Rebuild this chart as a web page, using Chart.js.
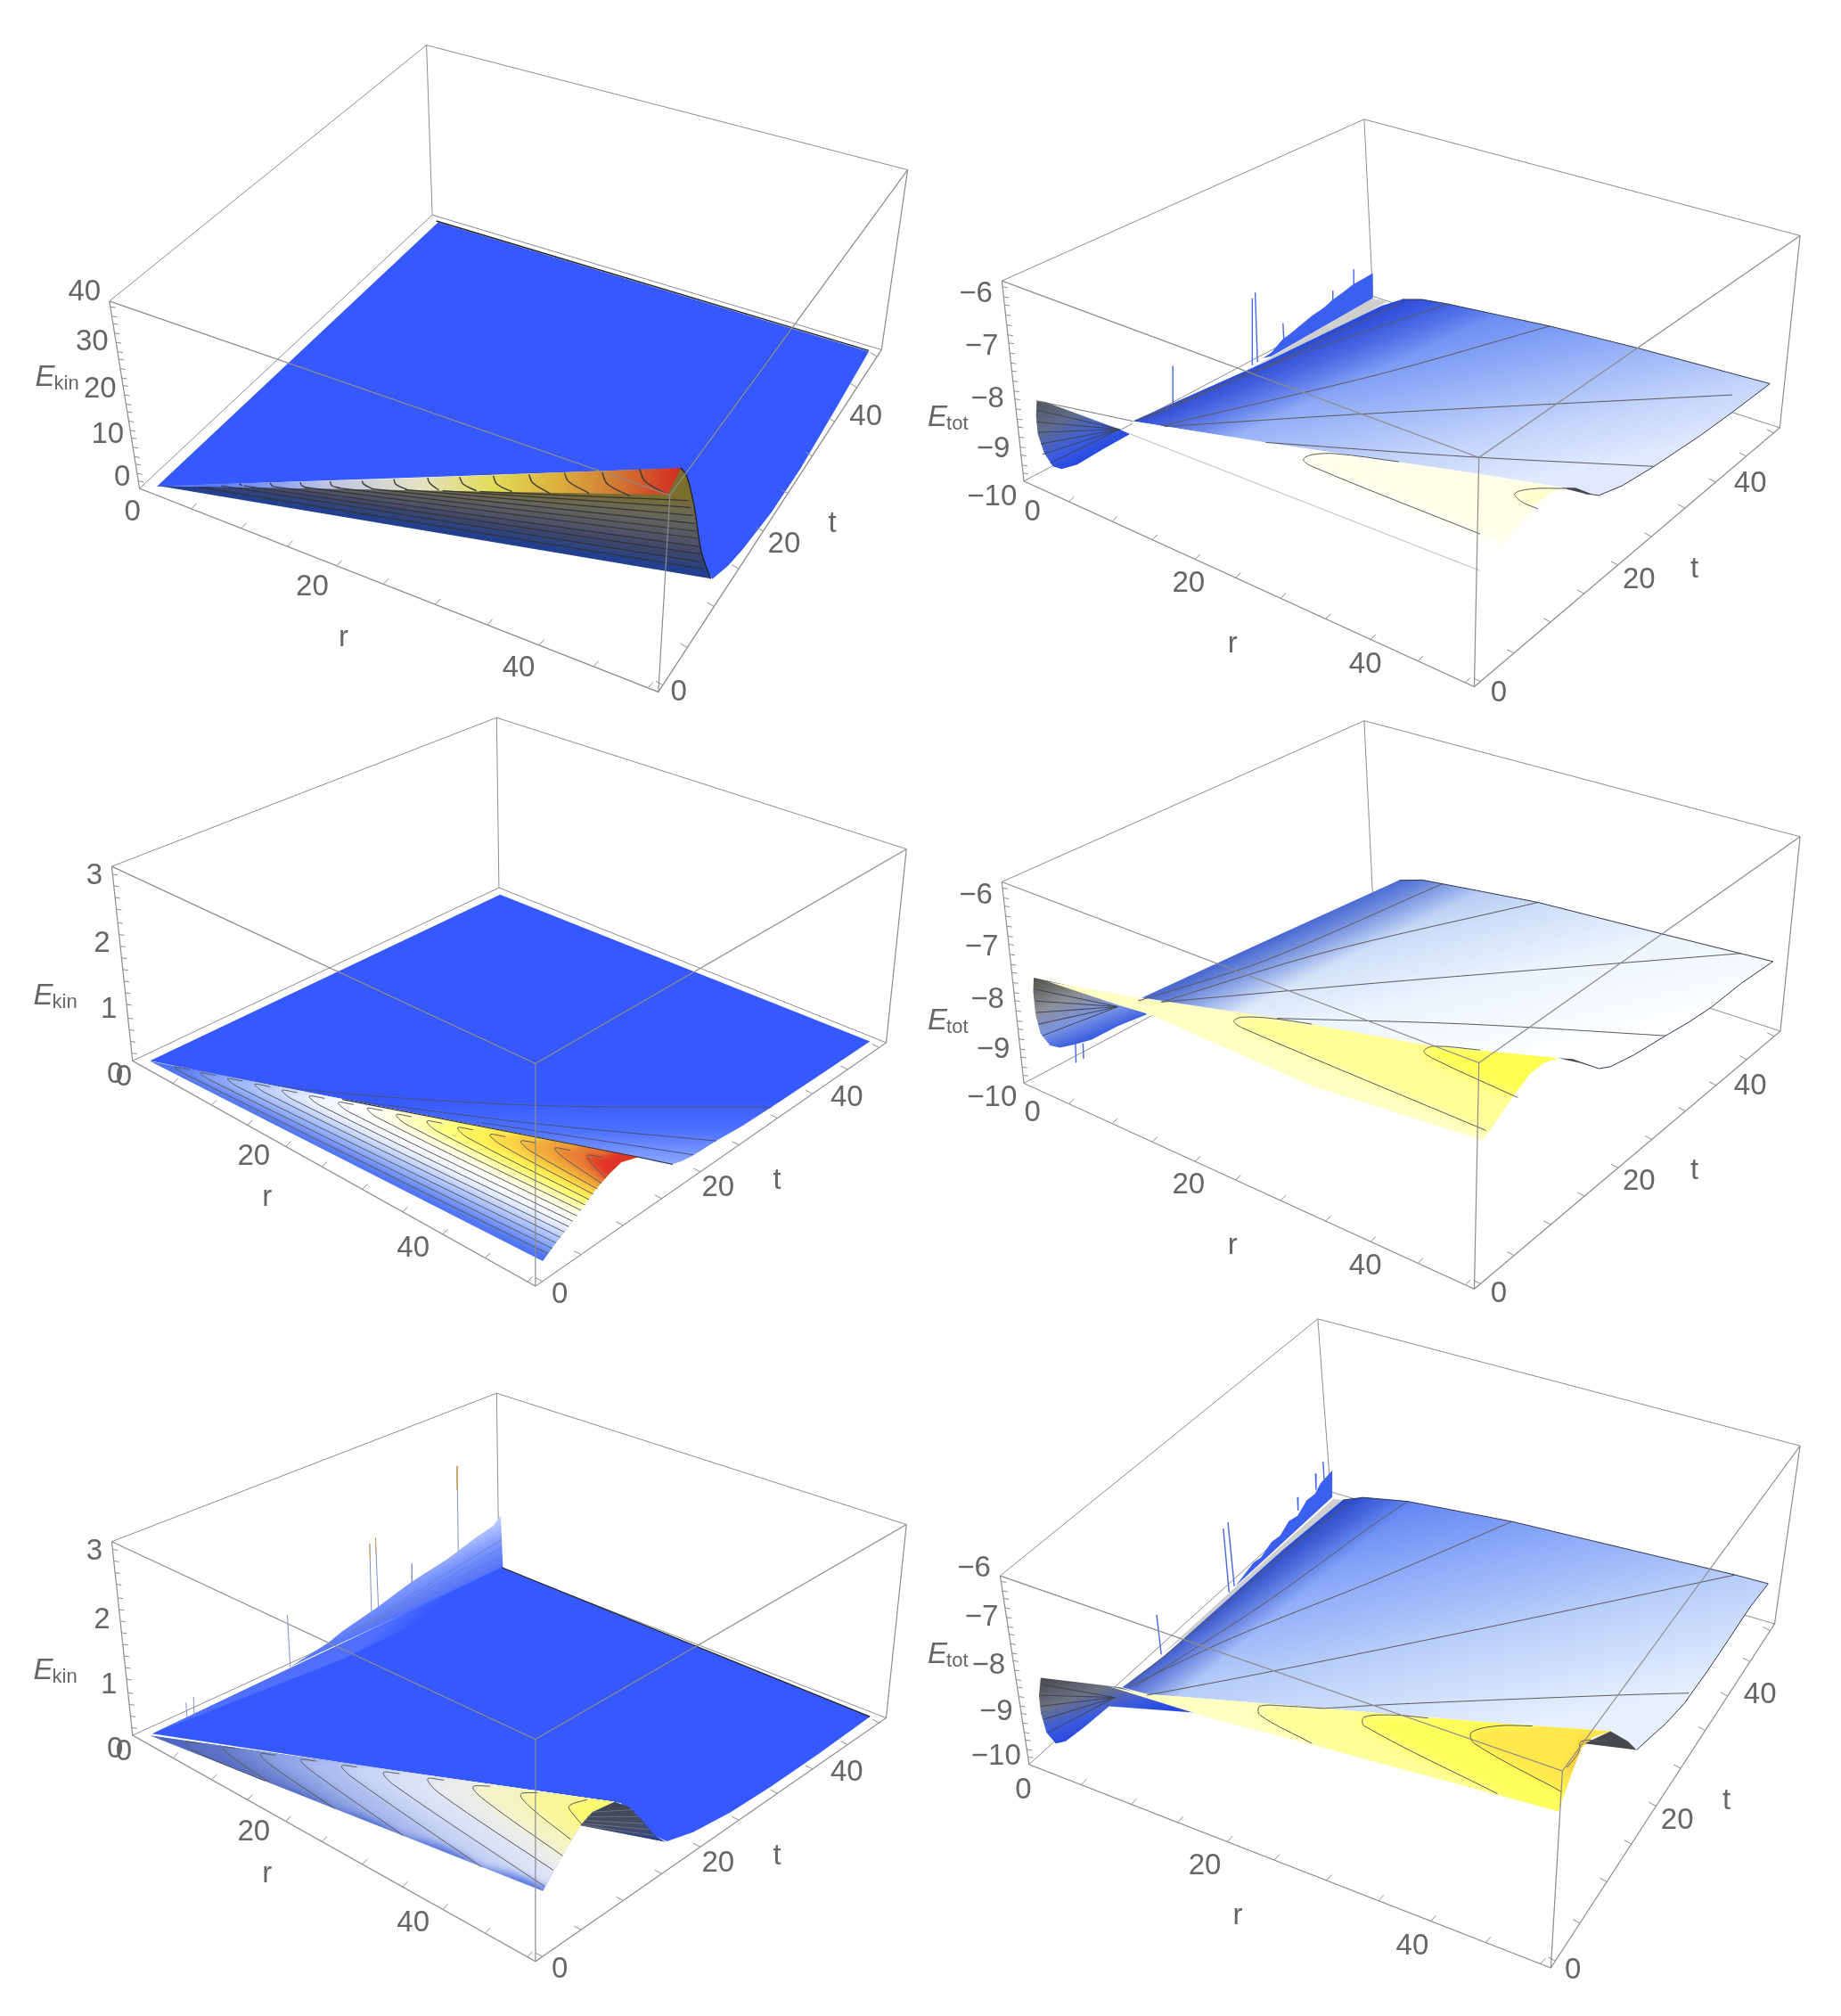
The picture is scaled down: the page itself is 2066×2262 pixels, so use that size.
<!DOCTYPE html>
<html lang="en">
<head>
<meta charset="UTF-8">
<title>E_kin and E_tot surfaces</title>
<script src="https://cdn.jsdelivr.net/npm/chart.js"></script>
<style>
  html, body { margin: 0; background: #fff; overflow: hidden; }
  #page { position: relative; width: 2066px; height: 2262px; }
  canvas { position: absolute; }
</style>
</head>
<body>
<div id="page"></div>
<script>
// every coordinate below is in "view units": each panel runs 0..1568 on both axes.
// detail arrays (d...) use a finer scale for the ridge area.

// box corners: back top, right top, left top, front top, front bottom, left bottom, right bottom, back bottom
const p1Box = [[705,42],[1535,327],[158,627],[1125,1070],[1105,1520],[210,1055],[1490,738],[715,430]];
const p2Box = [[770,32],[1522,333],[145,450],[968,907],[960,1500],[183,968],[1487,830],[785,490]];
const p3Box = [[826,12],[1533,352],[162,397],[893,907],[893,1483],[198,900],[1498,853],[830,452]];
const p4Box = [[770,20],[1522,320],[145,437],[968,905],[960,1490],[183,958],[1488,823],[785,480]];
const p5Box = [[826,52],[1533,382],[162,425],[893,922],[893,1480],[198,912],[1498,868],[830,490]];
const p6Box = [[690,20],[1522,310],[142,607],[1112,1053],[1092,1503],[192,1038],[1478,717],[712,415]];

// tick marks, as fraction along each box edge
const rTickFrac = [.10,.196,.285,.38,.47,.57,.67,.77,.875,.98];
const tTickFrac = [.02,.13,.25,.36,.47,.58,.69,.79,.89,.98];
const zTickFrac4 = [.04,.08,.13,.17,.22,.27,.31,.36,.41,.45,.50,.55,.59,.64,.69,.73,.78,.83,.88,.92,.97];
const zTickFrac3 = [.04,.10,.16,.22,.29,.35,.41,.47,.53,.59,.65,.71,.78,.84,.90,.96];

// tick and axis text
const p1Text = ['40','30','20','10','0','0','20','40','0','20','40','r','t'];
const p1TextAt = [[115,607],[128,720],[142,828],[155,932],[180,1030],[198,1110],[508,1280],[864,1465],[1140,1520],[1322,1183],[1463,892],[562,1397],[1405,1137]];
const p2Text = ['\u22126','\u22127','\u22128','\u22129','\u221210','0','20','40','0','20','40','r','t'];
const p2TextAt = [[100,485],[110,620],[120,755],[130,885],[128,1010],[198,1050],[467,1233],[772,1443],[1002,1518],[1244,1224],[1436,975],[543,1390],[1340,1197]];
const p3Text = ['3','2','1','0','0','20','40','0','20','40','r','t'];
const p3TextAt = [[132,422],[145,597],[157,767],[168,937],[183,942],[407,1147],[682,1385],[935,1505],[1208,1228],[1430,995],[430,1255],[1310,1210]];
const p4TextAt = [[100,472],[110,607],[120,742],[130,872],[128,997],[198,1035],[467,1222],[772,1432],[1002,1503],[1244,1213],[1436,965],[543,1378],[1340,1185]];
const p5TextAt = [[132,450],[145,622],[157,787],[168,948],[183,955],[407,1155],[682,1383],[935,1500],[1208,1233],[1430,1005],[430,1260],[1310,1217]];
const p6TextAt = [[97,590],[110,703],[122,812],[135,918],[135,1020],[182,1097],[495,1270],[853,1453],[1130,1508],[1310,1167],[1453,880],[552,1385],[1395,1122]];
const zTitles = ['kin','tot','kin','tot','kin','tot'];
const zTitleAt = [[30,820],[17,825],[27,755],[17,818],[27,770],[17,806]];

// panel 1: E_kin, big range
const p1Sheet = [[240,1050],[725,447],[1468,742],[1410,875],[1350,1010],[1300,1110],[1250,1195],[1225,1232],[1198,1262],[1150,1150],[1120,1010]];
const p1TopEdge = [[722,444],[1468,740]];
const d1Band = [[40,105],[600,85],[1435,45],[1400,135],[700,120]];
const d1Back = [[40,105],[700,120],[1400,135],[1435,45],[1450,70],[1470,170],[1490,330],[1515,418]];
const d1Arcs = [
  [[258,98],[265,105]],
  [[340,95],[345,105],[350,108]],
  [[420,93],[425,105],[440,112]],
  [[500,90],[505,105],[525,112]],
  [[585,88],[590,100],[612,115]],
  [[670,83],[675,100],[705,118]],
  [[760,78],[765,95],[790,120]],
  [[845,75],[855,100],[890,122]],
  [[935,72],[945,100],[985,125]],
  [[1030,67],[1040,95],[1085,130]],
  [[1125,62],[1135,90],[1190,130]],
  [[1225,60],[1240,100],[1300,140]],
  [[1325,50],[1340,90],[1400,135]]
];
const d1Fan = [
  [[150,110],[1495,385]],
  [[210,105],[1490,362]],
  [[270,105],[1487,335]],
  [[350,108],[1483,310]],
  [[430,110],[1480,282]],
  [[520,112],[1476,258]],
  [[610,115],[1472,232]],
  [[700,118],[1468,205]],
  [[800,122],[1462,178]],
  [[900,125],[1455,155]]
];
const d1TipEdge = [[1435,45],[1450,70],[1470,170],[1490,330],[1515,418]];

// panel 3: E_kin, small range
const p3Sheet = [[228,900],[832,470],[1470,850],[1380,940],[1300,1020],[1250,1068],[1205,1107],[1165,1145],[1145,1160],[1128,1168],[1105,1162],[1070,1150],[560,1000]];
const p3SheetLines = [
  [[270,915],[500,975],[890,1015],[1300,1020]],
  [[560,1000],[890,1062],[1205,1107]],
  [[800,1060],[1000,1105],[1165,1143]]
];
const p3RidgeLine = [[560,1000],[1075,1150],[1130,1168]];
const d3Front = [[48,32],[1480,355],[1470,358],[1430,372],[1395,410],[1350,470],[1310,535],[1270,595],[1240,640],[1200,705]];
const d3Contours = [
  [[165,61],[120,52],[150,75],[1215,680]],
  [[240,80],[195,72],[225,96],[1227,662]],
  [[320,99],[275,91],[305,118],[1239,644]],
  [[400,118],[355,110],[385,138],[1251,625]],
  [[480,138],[435,130],[465,160],[1263,607]],
  [[560,157],[515,150],[545,180],[1276,589]],
  [[645,178],[600,171],[630,202],[1288,571]],
  [[730,198],[685,191],[715,222],[1300,553]],
  [[815,219],[770,212],[800,245],[1312,534]],
  [[905,241],[860,234],[890,268],[1324,516]],
  [[995,263],[950,256],[980,290],[1336,498]],
  [[1090,286],[1045,279],[1075,312],[1348,480]],
  [[1180,307],[1135,301],[1165,335],[1360,462]],
  [[1280,332],[1235,325],[1265,360],[1372,443]],
  [[1375,355],[1330,350],[1350,385],[1385,425]]
];

// panel 5: E_kin, small range, later time
const p5Sheet = [[232,908],[835,490],[1470,865],[1380,960],[1300,1040],[1230,1105],[1165,1155],[1120,1178],[1090,1160],[1040,1082],[900,1055]];
const p5Wall = [[470,740],[535,680],[560,650],[620,590],[680,525],[740,470],[790,415],[820,385],[833,360],[837,492],[520,705]];
const p5Stripe = [[232,908],[835,490],[850,515],[560,720]];
const p5WallLines = [
  [[560,665],[835,420]],
  [[575,655],[835,440]],
  [[590,645],[835,460]],
  [[605,635],[835,478]]
];
const p5Spikes = [[[758,235],[760,470]],[[607,430],[610,600]],[[617,415],[622,590]],[[465,610],[470,740]],[[680,480],[680,550]],[[290,830],[293,885]],[[303,815],[305,875]]];
const p5WarmSpikes = [[[758,235],[758,295]],[[617,415],[618,455]],[[607,430],[608,470]]];
const p5SheetLine = [[835,490],[1470,865]];
const d5Front = [[48,82],[1410,305],[1345,340],[1310,385],[1255,490],[1200,605]];
const d5Back = [[1310,385],[1345,340],[1410,305],[1450,320],[1490,365],[1530,420],[1560,440]];
const d5BackLines = [[[1345,340],[1460,332]],[[1330,355],[1480,355]],[[1322,368],[1495,378]],[[1318,378],[1510,398]],[[1315,384],[1525,418]]];
const d5Contours = [
  [[190,108],[152,104],[180,135],[385,235]],
  [[300,125],[260,122],[290,155],[395,237]],
  [[415,148],[372,144],[400,180],[590,328]],
  [[535,168],[490,164],[520,200],[790,418]],
  [[655,188],[610,184],[640,222],[1020,524]],
  [[780,210],[732,207],[765,250],[1205,590]],
  [[910,232],[862,228],[895,275],[1230,535]],
  [[1045,252],[995,255],[1030,300],[1258,487]],
  [[1185,274],[1135,280],[1165,325],[1282,432]],
  [[1330,297],[1277,320],[1295,355],[1315,382]]
];

// panel 2: E_tot
const p2Wall = [[595,650],[610,635],[630,600],[640,590],[660,565],[680,540],[700,520],[715,500],[735,478],[750,460],[785,430],[785,495],[610,645]];
const p2Grey = [[785,495],[810,503],[500,770],[560,690]];
const p2Spikes = [[[440,670],[440,775]],[[577,495],[577,668]],[[582,480],[586,660]],[[630,560],[632,620]],[[716,475],[716,520]],[[752,420],[752,465]]];
const p2Main = [[371,813],[600,660],[800,515],[835,498],[870,498],[915,510],[1090,567],[1245,625],[1470,716],[1405,790],[1350,850],[1270,930],[1215,980],[1175,1005],[1150,1000],[1110,985],[970,950],[600,868]];
const p2Rim = [[835,498],[870,498],[915,510],[1090,567],[1245,625],[1470,716],[1405,790],[1350,850],[1270,930],[1215,980],[1175,1005],[1150,1000]];
const p2Front = [[371,813],[600,868],[970,950],[1115,985],[1090,1000],[1065,1030],[1040,1075],[1000,1145],[970,1200],[366,846]];
const p2Hump = [[1110,985],[1135,985],[1165,1003],[1150,1000]];
const p2Left = [[205,761],[220,763],[348,834],[366,846],[320,885],[275,925],[248,937],[233,930],[218,895],[207,846],[204,800]];
const p2LeftTop = [[205,760],[371,813]];
const p2Fan = [[[348,834],[205,784]],[[348,834],[205,815]],[[348,834],[207,842]],[[348,834],[212,872]],[[348,834],[215,899]],[[348,834],[228,922]]];
const p2Lines = [
  [[375,812],[600,672],[835,505]],
  [[395,805],[640,650],[915,510]],
  [[420,825],[800,690],[1090,567]],
  [[425,827],[760,795],[1405,745]],
  [[600,868],[950,905],[1270,930]]
];
const p2Loops = [
  [[830,918],[720,897],[680,900],[665,912],[680,930],[970,1105]],
  [[1115,987],[1060,988],[1030,1000],[1040,1020],[1070,1040]]
];
const p2LowerEdge = [[366,846],[970,1200]];

// panel 4: E_tot
const p4Main = [[375,745],[600,590],[830,433],[870,432],[905,442],[1070,490],[1285,572],[1475,643],[1420,700],[1370,760],[1330,800],[1290,835],[1235,885],[1195,915],[1175,920],[1145,905],[1105,893],[880,860],[620,790]];
const p4Rim = [[830,433],[870,432],[905,442],[1070,490],[1285,572],[1475,643],[1420,700],[1370,760],[1330,800],[1290,835],[1235,885],[1195,915],[1175,920],[1145,905]];
const p4Front = [[380,735],[620,790],[880,860],[1105,893],[1080,905],[1055,935],[1030,985],[975,1105],[680,965],[400,780]];
const p4Wedge = [[225,695],[380,737],[400,780],[345,755]];
const p4Hump = [[1105,893],[1130,895],[1165,915],[1150,908]];
const p4Left = [[200,685],[290,715],[375,745],[395,780],[345,810],[300,845],[270,858],[245,866],[228,860],[212,830],[203,780],[199,720]];
const p4Fan = [[[345,760],[203,715]],[[345,760],[203,745]],[[345,760],[205,775]],[[345,760],[208,805]],[[345,760],[215,835]]];
const p4Spikes = [[[272,855],[273,905]],[[285,855],[286,895]]];
const p4Lines = [
  [[380,745],[600,640],[905,442]],
  [[420,748],[700,620],[1070,490]],
  [[420,748],[820,695],[1420,622]],
  [[620,790],[950,805],[1290,835]]
];
const p4Loops = [
  [[680,805],[610,790],[560,787],[545,797],[560,815],[980,1080]],
  [[970,872],[890,862],[873,875],[890,895],[1035,995]]
];

// panel 6: E_tot
const p6Wall = [[548,631],[579,577],[592,565],[610,530],[625,515],[640,482],[655,470],[671,434],[685,420],[695,395],[715,366],[715,427]];
const p6Grey = [[717,431],[733,434],[548,660],[420,787],[538,645]];
const p6Spikes = [[[412,696],[420,787]],[[527,499],[537,645]],[[535,485],[546,631]],[[655,427],[656,458]],[[686,373],[687,411]],[[699,346],[701,387]]];
const p6Main = [[353,862],[425,790],[527,670],[630,548],[733,434],[768,428],[845,437],[1025,483],[1410,605],[1467,625],[1435,680],[1399,752],[1362,825],[1322,899],[1290,945],[1262,978],[1240,1005],[1225,985],[1195,962],[1010,945],[830,925],[660,905],[395,877]];
const p6Rim = [[733,434],[768,428],[845,437],[1025,483],[1410,605],[1467,625],[1435,680],[1399,752],[1362,825],[1322,899],[1290,945],[1262,978],[1240,1005]];
const p6Front = [[330,860],[395,877],[660,905],[830,925],[1010,945],[1195,962],[1165,975],[1145,1000],[1130,1050],[1105,1145],[700,1000],[500,930]];
const p6Hump = [[1150,990],[1195,962],[1225,985],[1240,1005]];
const p6Left = [[212,840],[350,862],[481,920],[330,905],[285,955],[255,985],[238,990],[222,965],[212,920],[209,880]];
const p6Fan = [[[340,885],[212,855]],[[340,885],[210,880]],[[340,885],[212,905]],[[340,885],[217,935]],[[340,885],[225,965]]];
const p6Lines = [
  [[365,855],[527,680],[640,548],[745,440]],
  [[375,860],[600,668],[784,492],[845,437]],
  [[365,860],[540,750],[784,620],[1025,483]],
  [[395,880],[612,825],[1000,720],[1410,605]],
  [[700,910],[830,900],[1200,880],[1330,875]]
];
const p6Loops = [
  [[700,910],[640,905],[590,905],[590,925],[680,990]],
  [[880,932],[820,925],[770,930],[770,950],[1000,1105]],
  [[1060,950],[1000,950],[955,965],[960,990],[1110,1100]],
  [[1190,985],[1145,985],[1140,1010],[1120,1045]]
];

// ---- colours
const BLUE = '#3558ff', BOX = '#8c8c8c', LINE = '#5a5a5a', TEXT = '#666';
const d3Bands = ['#7291f6','#8facfa','#aac1fc','#c8d6fe','#e3ebff','#f8faff','#ffffff','#ffffe6','#ffffb4','#ffff78','#fff052','#fbd043','#f0a63a','#e87a35','#df3328'];
const d5Bands = ['#6a85e8','#8099ec','#98aef0','#b2c2f4','#c9d5f8','#dbe2f8','#ecedea','#f4f4c4','#f8f79a','#fbfa6e'];
const d1Shades = ['#2f437f','#3a4670','#454a6c','#505468','#585a64','#5f5f60','#66665a','#6c6a50','#736a40','#7a6f2c'];

// panel frames on the page
const panelRects = [[20,30,1020,770],[1030,120,1020,680],[20,800,1020,680],[1030,800,1020,680],[20,1540,1020,700],[1030,1470,1020,770]];
// where detail units land on the page: x0, kx, y0, ky
const detailFrames = [[160,660/1568,510,1/3],null,[150,600/1568,1180,1/3],null,[150,600/1568,1920,1/3],null];

// ---- dataset helpers
const P = list => list.map(p => p ? {x: p[0], y: p[1]} : {x: null, y: null});
const axes = detail => detail ? {xAxisID: 'xd', yAxisID: 'yd'} : {xAxisID: 'x', yAxisID: 'y'};
const grad = (from, to, stops) => ({from, to, stops});

function line(points, color, width, o = {}) {
  return {data: P(points), borderColor: color, borderWidth: width, pointRadius: 0, fill: false,
          tension: o.tension || 0, ...axes(o.detail)};
}
function patch(points, fill, o = {}) {
  return {data: P(points), borderWidth: 0, pointRadius: 0, fill: false, tension: o.tension || 0,
          patch: {fill, clip: o.clip, via: o.via, blur: o.blur}, ...axes(o.detail)};
}
function edgeTicks(a, b, fracs, vec) {
  const out = [];
  fracs.forEach(f => {
    const x = a[0] + (b[0] - a[0]) * f, y = a[1] + (b[1] - a[1]) * f;
    out.push([x, y], [x + vec[0], y + vec[1]], null);
  });
  return out;
}
function backEdges(b) {
  return [line([b[2], b[0], b[1]], BOX, 1), line([b[0], b[7]], BOX, 1), line([b[5], b[7], b[6]], BOX, 1)];
}
function frontEdges(b, zFrac) {
  return [
    line([b[2], b[3], b[1]], BOX, 1.2), line([b[3], b[4]], BOX, 1.2),
    line([b[2], b[5], b[4], b[6], b[1]], BOX, 1.2),
    line(edgeTicks(b[5], b[4], rTickFrac, [9, -13]), BOX, 1),
    line(edgeTicks(b[4], b[6], tTickFrac, [-12, -9]), BOX, 1),
    line(edgeTicks(b[5], b[2], zFrac, [9, 2]), BOX, 1)
  ];
}
const many = (lists, color, width, o) => lists.map(l => line(l, color, width, o));

// ---- the six panels
function panel1() {
  const d = {detail: true};
  const farUp = [[2100,-400],[-300,-400]];
  return [
    ...backEdges(p1Box),
    patch(p1Sheet, BLUE),
    line(p1TopEdge, '#222', 1.4),
    patch(d1Back, '#23408f', d),
    ...d1Fan.map((l, i) => patch(l, d1Shades[i], {detail: true, clip: d1Back, via: farUp, blur: 2})),
    patch(d1Band, grad([40,100],[1435,100],[[0,'#3558ff'],[.2,'#7f96f5'],[.32,'#bcc3e4'],[.5,'#e2e2c4'],[.64,'#e2dc58'],[.76,'#dcb23c'],[.87,'#d37d33'],[1,'#d22a22']]), d),
    ...many(d1Fan, '#333', 1.2, d),
    ...d1Arcs.map(l => line(l, '#3a3a3a', 1.4, {detail: true, tension: .4})),
    line(d1TipEdge, '#222', 1.4, {detail: true, tension: .3}),
    ...frontEdges(p1Box, zTickFrac4)
  ];
}
function panel3() {
  const via = [[2400,900],[2400,-300]];
  return [
    ...backEdges(p3Box),
    patch(p3Sheet, grad([900,1000],[900,1165],[[0,BLUE],[.5,'#4f72ff'],[1,'#8ba7ff']])),
    ...many(p3SheetLines, '#45537f', 1, {tension: .3}),
    patch(d3Front, '#4f74f2', {detail: true}),
    ...d3Contours.map((l, i) => patch(l, d3Bands[i], {detail: true, tension: .35, clip: d3Front, via, blur: 5})),
    ...d3Contours.map(l => line(l, LINE, 1, {detail: true, tension: .35})),
    line(p3RidgeLine, '#333', 1.2),
    ...frontEdges(p3Box, zTickFrac3)
  ];
}
function panel5() {
  const via = [[2400,900],[2400,-300]];
  return [
    ...backEdges(p5Box),
    ...many(p5Spikes, '#8090c8', 1),
    ...many(p5WarmSpikes, '#c8a060', 1),
    patch(p5Wall, grad([720,580],[680,460],[[0,'#4a6dff'],[.5,'#7d97ff'],[1,'#cfdcff']])),
    ...many(p5WallLines, '#6a7cc4', .8),
    patch(p5Sheet, BLUE),
    patch(p5Stripe, grad([650,610],[675,650],[[0,'#4f70ff'],[1,BLUE]])),
    line(p5SheetLine, '#222', 1.2),
    patch(d5Front, '#5775e2', {detail: true}),
    ...d5Contours.map((l, i) => patch(l, d5Bands[i], {detail: true, tension: .35, clip: d5Front, via, blur: 5})),
    patch(d5Front, grad([620,160],[530,330],[[0,'rgba(70,80,140,0)'],[.55,'rgba(70,80,140,.08)'],[1,'rgba(70,80,140,.38)']]), {detail: true}),
    patch(d5Back, grad([1400,300],[1400,440],[[0,'#3f444c'],[.6,'#444d68'],[1,'#2a3e90']]), {detail: true}),
    ...many(d5BackLines, '#6c7078', 1, {detail: true}),
    ...d5Contours.map(l => line(l, LINE, 1, {detail: true, tension: .35})),
    ...frontEdges(p5Box, zTickFrac3)
  ];
}
function etotPanel(s) {
  const via = [[1700,1568],[1700,-100]];
  const out = [...backEdges(s.box)];
  out.push(...many(s.spikes, '#4667e0', 1.4));
  if (s.wall) out.push(patch(s.wall, '#3c60ee'));
  if (s.grey) out.push(patch(s.grey, '#cfcfcf'));
  out.push(patch(s.left, s.leftFill), ...many(s.fan, '#3d4350', 1));
  out.push(patch(s.main, s.mainFill), patch(s.main, s.mainShade));
  if (s.wedge) out.push(patch(s.wedge, s.frontBase));
  out.push(patch(s.front, s.frontBase));
  s.loops.forEach((l, i) => out.push(patch(l, s.loopFills[i], {tension: .35, clip: s.front, via, blur: 6})));
  out.push(patch(s.hump, '#45484c'));
  out.push(...many(s.lines, LINE, 1, {tension: .3}));
  out.push(...many(s.loops, LINE, 1, {tension: .35}));
  out.push(line(s.rim, '#30364c', 1));
  out.push(...(s.extra || []));
  return out;
}
function panel2() {
  return [
    ...etotPanel({box: p2Box, wall: p2Wall, grey: p2Grey, spikes: p2Spikes, left: p2Left,
      leftFill: grad([205,770],[260,935],[[0,'#55585e'],[.35,'#5f6b8c'],[.75,'#3a5ce0'],[1,'#2548e0']]), fan: p2Fan,
      main: p2Main, rim: p2Rim,
      mainFill: grad([880,510],[950,1000],[[0,'#5a7ff0'],[.25,'#7a9af5'],[.5,'#a0b8f8'],[.75,'#c4d4fb'],[1,'#e0e9ff']]),
      mainShade: grad([600,660],[640,790],[[0,'rgba(35,65,210,.85)'],[1,'rgba(35,65,210,0)']]),
      front: p2Front, frontBase: '#ffffff', loops: p2Loops, loopFills: ['#ffffe8','#ffffc8'], lines: p2Lines, hump: p2Hump,
      extra: [line(p2LeftTop, '#777', 1), line(p2LowerEdge, '#bbb', 1)]}),
    ...frontEdges(p2Box, zTickFrac4)
  ];
}
function panel4() {
  return [
    ...etotPanel({box: p4Box, spikes: p4Spikes, left: p4Left, wedge: p4Wedge,
      leftFill: grad([205,690],[250,865],[[0,'#55554c'],[.4,'#8d8f96'],[.75,'#7a92e4'],[1,'#3d62e0']]), fan: p4Fan,
      main: p4Main, rim: p4Rim,
      mainFill: grad([860,430],[940,920],[[0,'#a3baf0'],[.3,'#cfdff9'],[.6,'#ecf4fe'],[1,'#fcfeff']]),
      mainShade: grad([600,590],[640,710],[[0,'rgba(45,80,200,.8)'],[1,'rgba(45,80,200,0)']]),
      front: p4Front, frontBase: '#ffffc4', loops: p4Loops, loopFills: ['#ffff96','#ffff52'], lines: p4Lines, hump: p4Hump}),
    ...frontEdges(p4Box, zTickFrac4)
  ];
}
function panel6() {
  return [
    ...etotPanel({box: p6Box, wall: p6Wall, grey: p6Grey, spikes: p6Spikes, left: p6Left,
      leftFill: grad([215,845],[250,990],[[0,'#4a4c50'],[.4,'#6c7282'],[.75,'#3a5ae0'],[1,'#2548e0']]), fan: p6Fan,
      main: p6Main, rim: p6Rim,
      mainFill: grad([780,430],[870,1000],[[0,'#5a80f2'],[.3,'#8caaf8'],[.6,'#b8cdfa'],[1,'#e6f0ff']]),
      mainShade: grad([540,650],[590,730],[[0,'rgba(30,60,190,.8)'],[1,'rgba(30,60,190,0)']]),
      front: p6Front, frontBase: '#ffffc0', loops: p6Loops, loopFills: ['#ffff96','#ffff5c','#ffe84c','#fdc040'], lines: p6Lines, hump: p6Hump}),
    ...frontEdges(p6Box, zTickFrac4)
  ];
}

// ---- plugins
const surfacePatch = {
  id: 'surfacePatch',
  beforeDatasetDraw(chart, {index, meta}) {
    const ds = chart.data.datasets[index];
    if (!ds.patch) return;
    const {ctx} = chart, sx = chart.scales[meta.xAxisID], sy = chart.scales[meta.yAxisID];
    const px = p => [sx.getPixelForValue(p[0]), sy.getPixelForValue(p[1])];
    const {fill, clip, via, blur} = ds.patch;
    ctx.save();
    if (clip) {
      ctx.beginPath();
      clip.forEach((p, i) => { const q = px(p); i ? ctx.lineTo(q[0], q[1]) : ctx.moveTo(q[0], q[1]); });
      ctx.closePath();
      ctx.clip();
    }
    if (blur) ctx.filter = 'blur(' + blur + 'px)';
    if (typeof fill === 'string') {
      ctx.fillStyle = fill;
    } else {
      const a = px(fill.from), b = px(fill.to);
      const g = ctx.createLinearGradient(a[0], a[1], b[0], b[1]);
      fill.stops.forEach(s => g.addColorStop(s[0], s[1]));
      ctx.fillStyle = g;
    }
    ctx.beginPath();
    meta.dataset.path(ctx);
    if (via) via.forEach(p => { const q = px(p); ctx.lineTo(q[0], q[1]); });
    ctx.closePath();
    ctx.fill();
    ctx.restore();
  }
};
const axisText = {
  id: 'axisText',
  afterDraw(chart, args, opts) {
    const {ctx} = chart, sx = chart.scales.x, sy = chart.scales.y;
    ctx.save();
    ctx.fillStyle = TEXT;
    ctx.font = '33px "Liberation Sans"';
    ctx.textAlign = 'center';
    ctx.textBaseline = 'middle';
    opts.text.forEach((s, i) => {
      ctx.fillText(s, sx.getPixelForValue(opts.at[i][0]), sy.getPixelForValue(opts.at[i][1]));
    });
    // z axis title with subscript
    const x = sx.getPixelForValue(opts.titleAt[0]), y = sy.getPixelForValue(opts.titleAt[1]);
    ctx.textAlign = 'left';
    ctx.textBaseline = 'alphabetic';
    ctx.font = 'italic 33px "Liberation Sans"';
    ctx.fillText('E', x, y);
    ctx.font = '22px "Liberation Sans"';
    ctx.fillText(opts.sub, x + 21, y + 4);
    ctx.restore();
  }
};

// ---- build
const panelData = [panel1(), panel2(), panel3(), panel4(), panel5(), panel6()];
const panelText = [p1Text, p2Text, p3Text, p2Text, p3Text, p2Text];
const panelTextAt = [p1TextAt, p2TextAt, p3TextAt, p4TextAt, p5TextAt, p6TextAt];

panelRects.forEach((r, n) => {
  const cv = document.createElement('canvas');
  cv.width = r[2];
  cv.height = r[3];
  cv.style.left = r[0] + 'px';
  cv.style.top = r[1] + 'px';
  document.getElementById('page').appendChild(cv);

  const hidden = (min, max, reverse) => ({type: 'linear', display: false, min, max, reverse});
  const scales = {x: hidden(0, 1568, false), y: hidden(0, 1568, true)};
  const f = detailFrames[n];
  if (f) {
    scales.xd = hidden((r[0] - f[0]) / f[1], (r[0] + r[2] - f[0]) / f[1], false);
    scales.yd = hidden((r[1] - f[2]) / f[3], (r[1] + r[3] - f[2]) / f[3], true);
  }
  const sets = panelData[n];
  sets.forEach((d, i) => { d.order = sets.length - i; d.clip = false; });

  new Chart(cv, {
    type: 'line',
    data: {datasets: sets},
    options: {
      responsive: false,
      animation: false,
      events: [],
      layout: {padding: 0},
      scales,
      plugins: {
        legend: {display: false},
        tooltip: {enabled: false},
        axisText: {text: panelText[n], at: panelTextAt[n], sub: zTitles[n], titleAt: zTitleAt[n]}
      }
    },
    plugins: [surfacePatch, axisText]
  });
});
</script>
</body>
</html>
